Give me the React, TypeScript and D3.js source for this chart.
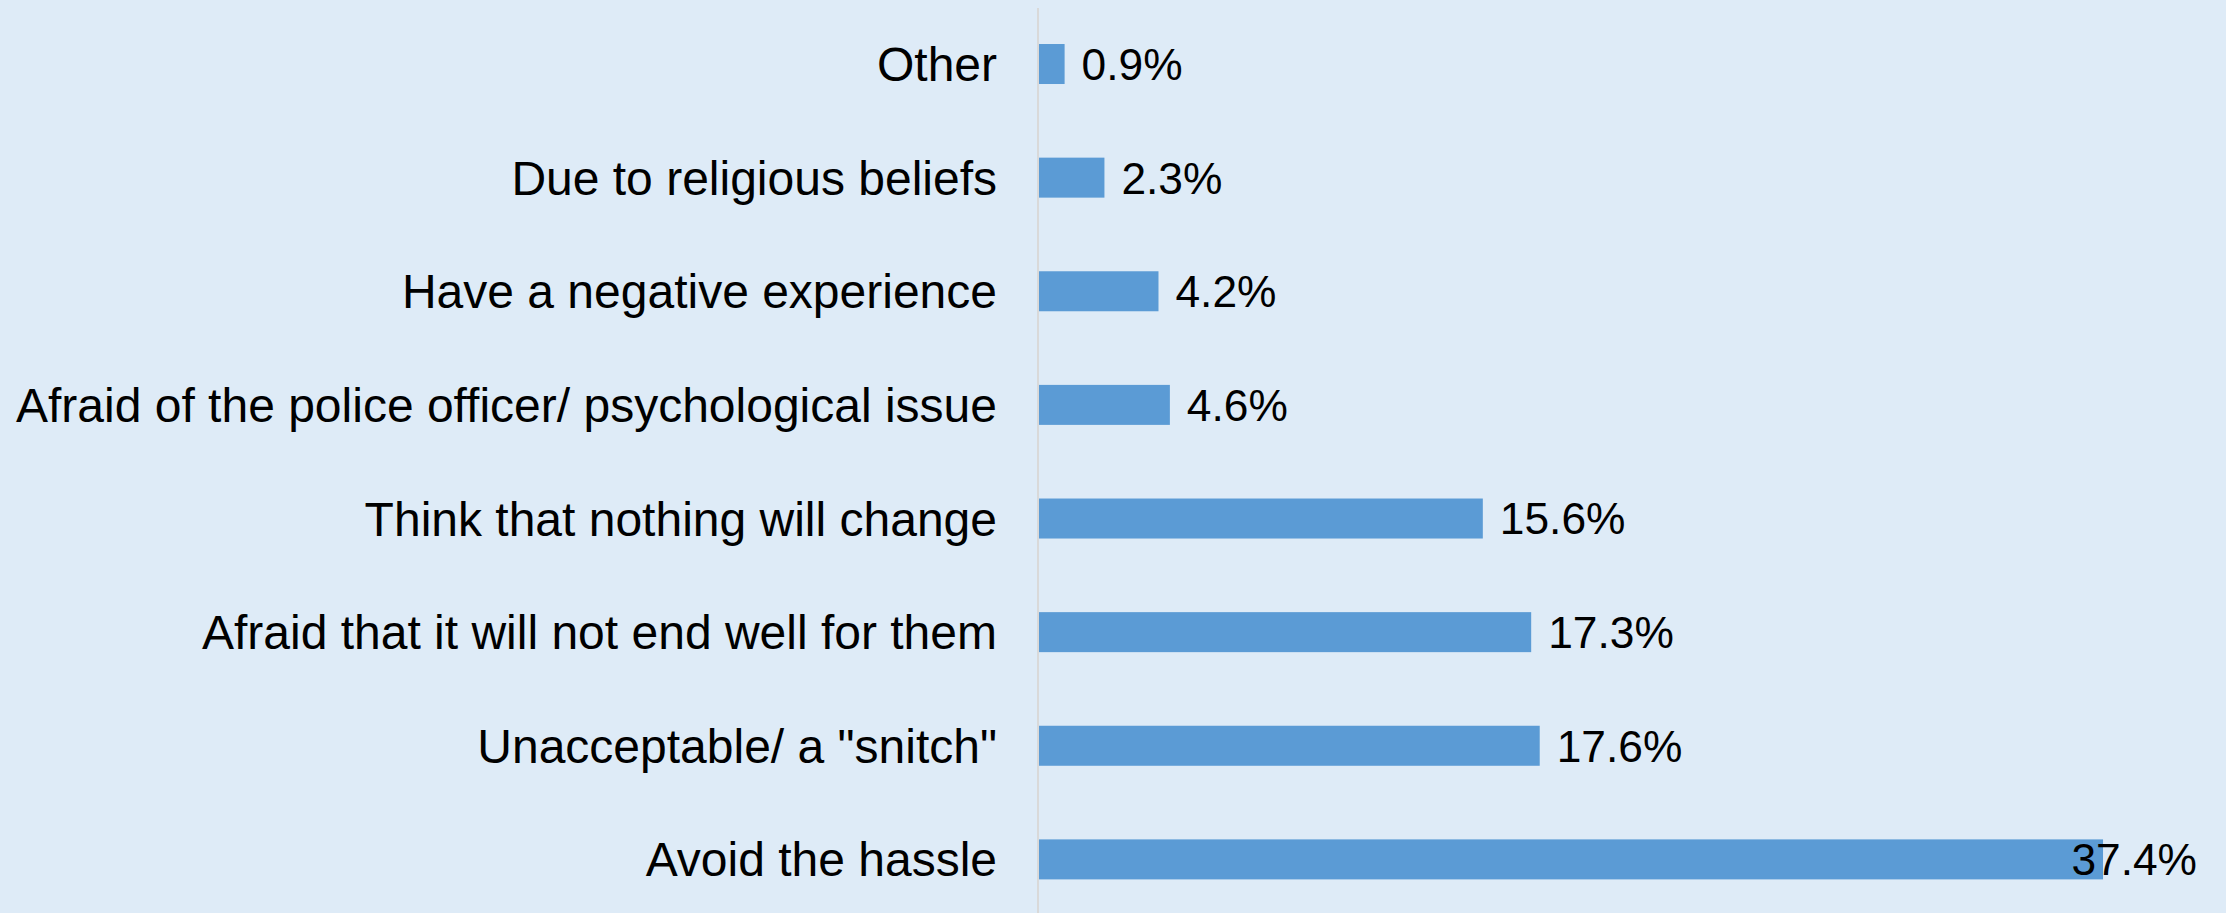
import React from "react";
import * as d3 from "d3";

const categories = [
  "Other",
  "Due to religious beliefs",
  "Have a negative experience",
  "Afraid of the police officer/ psychological issue",
  "Think that nothing will change",
  "Afraid that it will not end well for them",
  'Unacceptable/ a "snitch"',
  "Avoid the hassle",
];
const values = [0.9, 2.3, 4.2, 4.6, 15.6, 17.3, 17.6, 37.4];
const valueLabels = ["0.9%", "2.3%", "4.2%", "4.6%", "15.6%", "17.3%", "17.6%", "37.4%"];

const W = 2226;
const H = 913;
const FONT = "'Liberation Sans', Arial, sans-serif";
const CAT_SIZE = 48;
const VAL_SIZE = 44.3;

function measure(text: string, size: number): number {
  const c = document.createElement("canvas").getContext("2d");
  if (!c) return text.length * size * 0.55;
  c.font = `${size}px ${FONT}`;
  return c.measureText(text).width;
}

export default function App() {
  const y = d3
    .scaleBand<string>()
    .domain(categories)
    .range([7.2, 916.2])
    .paddingInner(0.648)
    .paddingOuter(0.324);
  const x = d3.scaleLinear().domain([0, 40]).range([1039, 2177]);
  const rightLimit = 2197;

  return (
    <svg
      width={W}
      height={H}
      style={{ position: "absolute", left: 0, top: 0, display: "block" }}
      fontFamily={FONT}
    >
      <rect x={0} y={0} width={W} height={H} fill="#DEEBF7" />
      <line x1={1038} x2={1038} y1={8} y2={H} stroke="#D9D9D9" strokeWidth={2} />
      {categories.map((c, i) => {
        const by = y(c)!;
        const bh = y.bandwidth();
        const cy = by + bh / 2;
        const xe = x(values[i]);
        const lw = measure(valueLabels[i], VAL_SIZE);
        const overflow = xe + 17 + lw > rightLimit;
        return (
          <g key={c}>
            <rect x={x(0)} y={by} width={xe - x(0)} height={bh} fill="#5B9BD5" />
            <text
              x={997}
              y={cy}
              dy="0.355em"
              textAnchor="end"
              fontSize={CAT_SIZE}
              fill="#000"
            >
              {c}
            </text>
            <text
              x={overflow ? rightLimit : xe + 17}
              y={cy}
              dy="0.36em"
              textAnchor={overflow ? "end" : "start"}
              fontSize={VAL_SIZE}
              fill="#000"
            >
              {valueLabels[i]}
            </text>
          </g>
        );
      })}
    </svg>
  );
}
